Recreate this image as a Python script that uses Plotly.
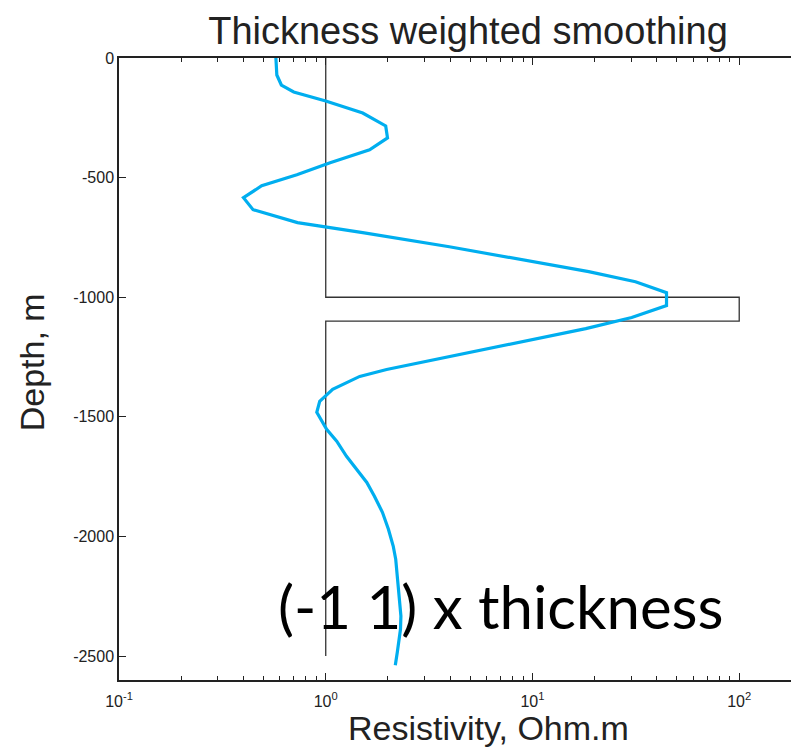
import plotly.graph_objects as go

# Model (true) resistivity profile
model_depth = [0, -1000, -1000, -1100, -1100, -2500]
model_rho = [1, 1, 100, 100, 1, 1]

# Smoothed inversion result
inv_depth = [0, -71, -113, -142, -180, -230, -284, -334, -384, -438, -488, -534, -584,
             -634, -688, -705, -730, -789, -835, -893, -935, -981, -1035, -1085, -1131,
             -1148, -1230, -1302, -1331, -1385, -1435, -1481, -1552, -1602, -1665, -1720,
             -1774, -1832, -1899, -1970, -2040, -2095, -2166, -2233, -2333, -2387, -2429,
             -2483, -2538]
inv_rho = [0.574, 0.58, 0.61, 0.70, 1.0, 1.51, 1.95, 1.99, 1.63, 1.05, 0.725, 0.49, 0.40,
           0.445, 0.73, 1.0, 1.51, 3.96, 8.0, 18.7, 31.5, 44.5, 44.5, 30.2, 18.1,
           14.5, 5.0, 1.97, 1.46, 1.08, 0.935, 0.905, 1.01, 1.13, 1.26, 1.41,
           1.58, 1.72, 1.88, 2.01, 2.12, 2.18, 2.22, 2.27, 2.31, 2.30, 2.27,
           2.22, 2.17]

x_major = [0.1, 1, 10, 100]
x_major_text = ["10<sup>-1</sup>", "10<sup>0</sup>", "10<sup>1</sup>", "10<sup>2</sup>"]
x_minor = [m * d for d in [0.1, 1, 10, 100] for m in range(2, 10)]
y_ticks = [-2500, -2000, -1500, -1000, -500, 0]
y_tick_text = ["-2500", "-2000", "-1500", "-1000", "-500", "0"]

W = 800
PW = W - 119

fig = go.Figure()
fig.add_trace(go.Scatter(x=model_rho, y=model_depth, mode="lines",
                         line=dict(color="#333333", width=1.3), showlegend=False))
fig.add_trace(go.Scatter(x=inv_rho, y=inv_depth, mode="lines",
                         line=dict(color="#00AEEF", width=3.2), showlegend=False))

axis_common = dict(showgrid=False, zeroline=False, showline=True, linecolor="#222222",
                   linewidth=1.5, mirror="ticks", ticks="inside", tickcolor="#222222",
                   tickfont=dict(family="Liberation Sans, Arial, sans-serif", size=16, color="#222222"))

fig.update_xaxes(type="log", range=[-1, 2 + (W - 741) / 207.5], tickvals=x_major, ticktext=x_major_text,
                 ticklen=7, tickwidth=1.2,
                 minor=dict(tickvals=x_minor, ticks="inside", ticklen=4, tickcolor="#222222", tickwidth=1),
                 ticklabelstandoff=6, **axis_common)
fig.update_yaxes(range=[-2600, 0], tickvals=y_ticks, ticktext=y_tick_text,
                 ticklen=7, tickwidth=1.2, **axis_common)

fig.update_layout(
    width=W, height=751,
    margin=dict(l=119, r=0, t=58, b=71),
    plot_bgcolor="white", paper_bgcolor="white",
    title=dict(text="Thickness weighted smoothing", x=468 / W, xanchor="center",
               y=1 - 31 / 751, yanchor="middle",
               font=dict(family="Liberation Sans, Arial, sans-serif", size=38, color="#222222")),
    annotations=[
        dict(text="Resistivity, Ohm.m", xref="paper", yref="paper",
             x=(490 - 119) / PW, y=(680 - 728) / 622, xanchor="center", yanchor="middle",
             showarrow=False, font=dict(family="Liberation Sans, Arial, sans-serif", size=34, color="#222222")),
        dict(text="Depth, m", xref="paper", yref="paper", textangle=-90,
             x=(32 - 119) / PW, y=(680 - 362) / 622, xanchor="center", yanchor="middle",
             showarrow=False, font=dict(family="Liberation Sans, Arial, sans-serif", size=34, color="#222222")),
        dict(text="(-1 1) x thickness", xref="paper", yref="paper",
             x=(502 - 119) / PW, y=(680 - 606) / 622, xanchor="center", yanchor="middle",
             showarrow=False, font=dict(family="Lato, Open Sans, sans-serif", size=60, color="#000000")),
    ],
)

fig.write_html("out.html", config={"displayModeBar": False},
               post_script="document.body.style.margin='0';document.body.style.overflow='hidden';")
